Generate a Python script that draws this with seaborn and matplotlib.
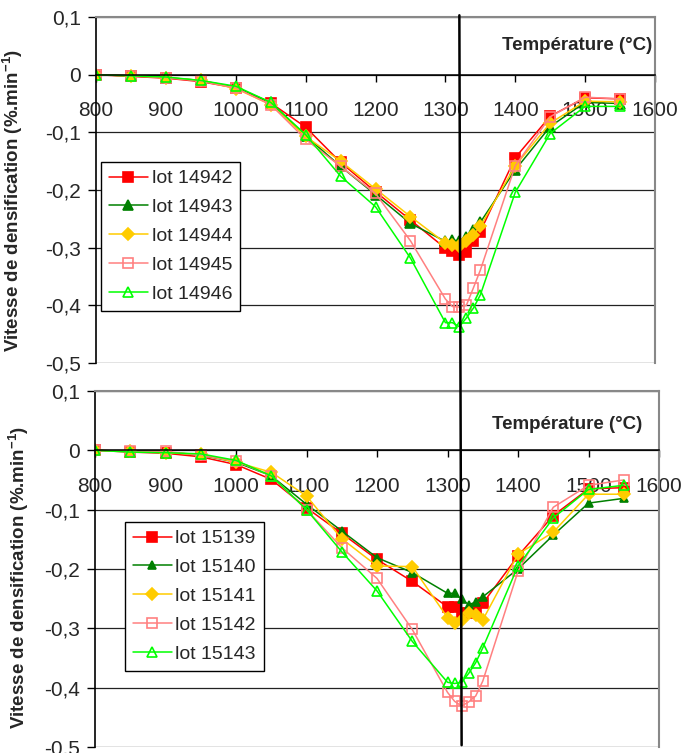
import numpy as np
import matplotlib
matplotlib.use("Agg")
import matplotlib.pyplot as plt
import seaborn as sns
from matplotlib.patches import ConnectionPatch

# Températures de mesure (°C)
temps = [800, 850, 900, 950, 1000, 1050, 1100, 1150, 1200, 1250,
         1300, 1310, 1320, 1330, 1340, 1350, 1400, 1450, 1500, 1550]

# Lots du haut
lot_14942 = [0, -0.003, -0.006, -0.012, -0.023, -0.049, -0.091, -0.152, -0.203, -0.252,
             -0.301, -0.305, -0.313, -0.307, -0.289, -0.272, -0.144, -0.072, -0.040, -0.042]
lot_14943 = [0, -0.002, -0.005, -0.010, -0.022, -0.048, -0.106, -0.159, -0.208, -0.258,
             -0.289, -0.287, -0.288, -0.281, -0.269, -0.256, -0.165, -0.090, -0.048, -0.050]
lot_14944 = [0, -0.002, -0.005, -0.010, -0.024, -0.052, -0.107, -0.150, -0.198, -0.246,
             -0.292, -0.295, -0.297, -0.289, -0.278, -0.263, -0.158, -0.084, -0.046, -0.047]
lot_14945 = [0, -0.002, -0.005, -0.011, -0.023, -0.052, -0.112, -0.159, -0.206, -0.288,
             -0.389, -0.402, -0.403, -0.400, -0.370, -0.339, -0.158, -0.073, -0.039, -0.042]
lot_14946 = [0, -0.002, -0.004, -0.010, -0.020, -0.048, -0.104, -0.176, -0.229, -0.318,
             -0.430, -0.430, -0.437, -0.422, -0.405, -0.382, -0.204, -0.102, -0.055, -0.055]

# Lots du bas
lot_15139 = [0, -0.003, -0.005, -0.011, -0.024, -0.049, -0.097, -0.140, -0.184, -0.221,
             -0.264, -0.264, -0.274, -0.274, -0.268, -0.258, -0.178, -0.110, -0.065, -0.063]
lot_15140 = [0, -0.002, -0.003, -0.008, -0.020, -0.043, -0.091, -0.136, -0.181, -0.206,
             -0.241, -0.241, -0.251, -0.260, -0.256, -0.247, -0.200, -0.143, -0.089, -0.081]
lot_15141 = [0, -0.002, -0.004, -0.007, -0.020, -0.037, -0.077, -0.149, -0.195, -0.196,
             -0.282, -0.291, -0.286, -0.274, -0.277, -0.286, -0.175, -0.138, -0.074, -0.074]
lot_15142 = [0, -0.002, -0.002, -0.008, -0.018, -0.043, -0.100, -0.164, -0.216, -0.302,
             -0.408, -0.423, -0.431, -0.424, -0.414, -0.389, -0.204, -0.096, -0.059, -0.050]
lot_15143 = [0, -0.003, -0.004, -0.006, -0.017, -0.043, -0.100, -0.171, -0.237, -0.322,
             -0.391, -0.393, -0.391, -0.376, -0.358, -0.333, -0.195, -0.114, -0.066, -0.059]

top_names = ["lot 14942", "lot 14943", "lot 14944", "lot 14945", "lot 14946"]
top_series = [lot_14942, lot_14943, lot_14944, lot_14945, lot_14946]
bottom_names = ["lot 15139", "lot 15140", "lot 15141", "lot 15142", "lot 15143"]
bottom_series = [lot_15139, lot_15140, lot_15141, lot_15142, lot_15143]

x_ticks = [800, 900, 1000, 1100, 1200, 1300, 1400, 1500, 1600]
y_ticks = [0.1, 0, -0.1, -0.2, -0.3, -0.4, -0.5]
y_ticklabels = ["0,1", "0", "-0,1", "-0,2", "-0,3", "-0,4", "-0,5"]
t_marker = 1320

sns.set_style("white")
plt.rcParams["font.family"] = ["Liberation Sans", "DejaVu Sans"]
plt.rcParams["mathtext.fontset"] = "custom"
plt.rcParams["mathtext.rm"] = "Liberation Sans"
plt.rcParams["mathtext.bf"] = "Liberation Sans:bold"

# style de chaque courbe : couleur, marqueur, taille, remplissage
styles = [
    dict(color="#FF0000", marker="s", markersize=7.5, markerfacecolor="#FF0000"),
    dict(color="#008000", marker="^", markersize=7.5, markerfacecolor="#008000"),
    dict(color="#FFCC00", marker="D", markersize=6.5, markerfacecolor="#FFCC00"),
    dict(color="#FF8080", marker="s", markersize=7.5, markerfacecolor="none"),
    dict(color="#00FF00", marker="^", markersize=7.5, markerfacecolor="none"),
]

fig = plt.figure(figsize=(6.83, 7.53), dpi=100)
ax1 = fig.add_axes([0.1406, 0.5179, 0.8184, 0.4595])
ax2 = fig.add_axes([0.1391, 0.0080, 0.8258, 0.4728])


def draw_panel(ax, names, series, legend_anchor, temp_xy, label_xy, small_tri=False):
    for i, (name, vals) in enumerate(zip(names, series)):
        st = dict(styles[i])
        if small_tri and i == 1:
            st["markersize"] = 5.5
        sns.lineplot(x=temps, y=vals, ax=ax, label=name, linewidth=1.1,
                     markeredgecolor=st["color"], markeredgewidth=1.2, **st)
    ax.set_xlim(800, 1600)
    ax.set_ylim(-0.5, 0.1)
    ax.set_xticks(x_ticks)
    ax.set_yticks(y_ticks)
    ax.set_yticklabels(y_ticklabels)
    ax.yaxis.grid(True, color="#222222", linewidth=0.9)
    ax.xaxis.grid(False)
    ax.set_axisbelow(True)

    ax.spines["bottom"].set_position(("data", 0))
    ax.spines["bottom"].set_color("black")
    ax.spines["bottom"].set_linewidth(1.1)
    ax.spines["left"].set_color("black")
    ax.spines["left"].set_linewidth(1.2)
    for s in ["top", "right"]:
        ax.spines[s].set_visible(True)
        ax.spines[s].set_color("#888888")
        ax.spines[s].set_linewidth(1.5)

    ax.tick_params(axis="x", direction="out", length=5, width=1, pad=14,
                   labelsize=15, bottom=True, color="black")
    ax.tick_params(axis="y", direction="out", length=6, width=1, pad=5,
                   labelsize=15, left=True, color="black")

    ax.set_xlabel("")
    ax.set_ylabel(r"Vitesse de densification (%.min$^{\mathbf{-1}}$)",
                  fontsize=13.5, fontweight="bold")
    ax.yaxis.set_label_coords(*label_xy)

    ax.text(temp_xy[0], temp_xy[1], "Température (°C)", ha="right", va="center",
            fontsize=13.5, fontweight="bold")

    leg = ax.legend(loc="upper left", bbox_to_anchor=legend_anchor, borderaxespad=0,
                    fontsize=14, frameon=True, fancybox=False, framealpha=1,
                    edgecolor="black", handlelength=2.0, handletextpad=0.2,
                    labelspacing=0.58, borderpad=0.4)
    leg.get_frame().set_linewidth(1.0)


draw_panel(ax1, top_names, top_series, (0.009, 0.581), (1596, 0.050), (-0.127, 0.47))
draw_panel(ax2, bottom_names, bottom_series, (0.053, 0.632), (1576, 0.044), (-0.113, 0.475),
           small_tri=True)

# trait vertical commun aux deux graphiques
con = ConnectionPatch(xyA=(t_marker, 0.103), coordsA=ax1.transData,
                      xyB=(t_marker, -0.497), coordsB=ax2.transData,
                      color="black", linewidth=1.8, zorder=10)
fig.add_artist(con)

fig.savefig("out.png", dpi=100)
